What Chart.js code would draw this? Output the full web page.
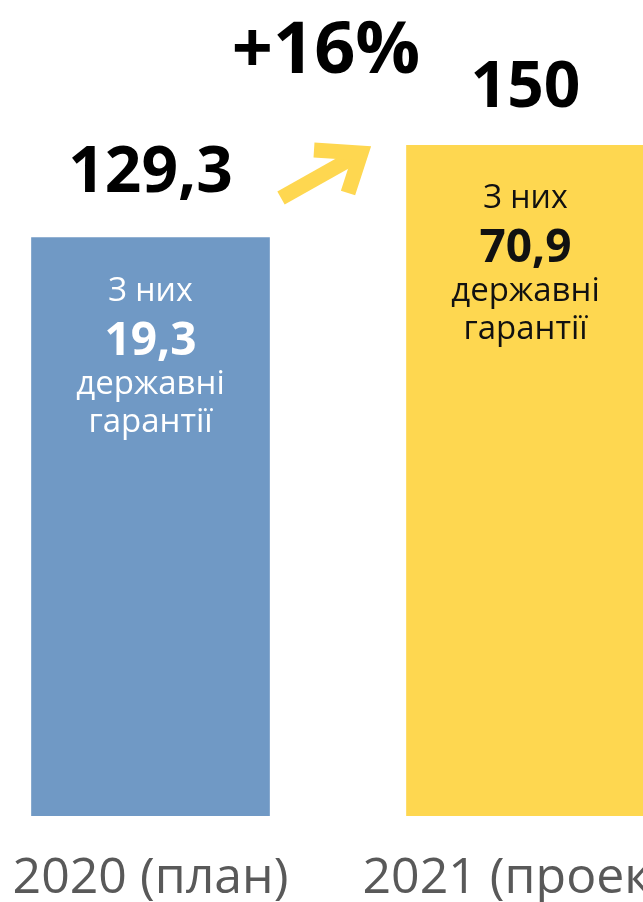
<!DOCTYPE html>
<html>
<head>
<meta charset="utf-8">
<script src="https://cdn.jsdelivr.net/npm/chart.js@4"></script>
<style>
  html, body { margin: 0; padding: 0; background: #ffffff; overflow: hidden; }
  #wrap { position: relative; width: 643px; height: 902px; overflow: hidden; }
  #chart { position: absolute; left: -37px; top: 0; }
</style>
</head>
<body>
<div id="wrap"><canvas id="chart" width="750" height="902"></canvas></div>
<script>
// chart data
const categories = ["2020 (план)", "2021 (проект)"];
const totals = [129.3, 150];
const guarantees = [19.3, 70.9];
const barColors = ["#7099c5", "#fed750"];
const innerTextColors = ["#ffffff", "#111111"];
const innerCaption = ["З них", "державні", "гарантії"];

const CANVAS_SHIFT = 37; // canvas sits 37px left of the page edge
const FONT = "'Open Sans', 'DejaVu Sans', sans-serif";

const fmt = v => String(v).replace(".", ",");
const growthPct = Math.round((totals[1] / totals[0] - 1) * 100);

const labelsPlugin = {
    id: "barLabels",
    afterDatasetsDraw(chart) {
        const ctx = chart.ctx;
        const meta = chart.getDatasetMeta(0);
        const lift = [46, 38];

        ctx.save();
        ctx.textAlign = "center";
        ctx.textBaseline = "alphabetic";

        meta.data.forEach((bar, i) => {
            const x = bar.x;
            const top = bar.y;

            // total above bar
            ctx.fillStyle = "#000000";
            ctx.font = `700 64px ${FONT}`;
            ctx.fillText(fmt(totals[i]), x, top - lift[i]);

            // text inside bar
            ctx.fillStyle = innerTextColors[i];
            ctx.font = `400 32px ${FONT}`;
            ctx.fillText(innerCaption[0], x, top + 63);
            ctx.font = `700 46px ${FONT}`;
            ctx.fillText(fmt(guarantees[i]), x, top + 117);
            ctx.font = `400 33px ${FONT}`;
            ctx.fillText(innerCaption[1], x, top + 156);
            ctx.fillText(innerCaption[2], x, top + 194);
        });

        // growth label + arrow
        const s = CANVAS_SHIFT;
        ctx.fillStyle = "#000000";
        ctx.font = `700 72px ${FONT}`;
        ctx.fillText(`+${growthPct}%`, 326 + s, 73);

        ctx.strokeStyle = "#fed750";
        ctx.lineWidth = 15;
        ctx.lineJoin = "miter";
        ctx.lineCap = "butt";
        ctx.beginPath();
        ctx.moveTo(281 + s, 198);
        ctx.lineTo(361 + s, 153);
        ctx.stroke();
        ctx.beginPath();
        ctx.moveTo(314 + s, 150);
        ctx.lineTo(361 + s, 153);
        ctx.lineTo(348 + s, 193);
        ctx.stroke();

        ctx.restore();
    }
};

new Chart(document.getElementById("chart"), {
    type: "bar",
    data: {
        labels: categories,
        datasets: [{
            data: totals,
            backgroundColor: barColors,
            borderWidth: 0,
            barThickness: 238
        }]
    },
    options: {
        responsive: false,
        devicePixelRatio: 1,
        animation: false,
        layout: { padding: { top: 145, left: 0, right: 0, bottom: 0 } },
        plugins: {
            legend: { display: false },
            tooltip: { enabled: false }
        },
        scales: {
            x: {
                grid: { display: false, drawTicks: false },
                border: { display: false },
                ticks: {
                    color: "#595959",
                    padding: 38,
                    maxRotation: 0,
                    font: { family: FONT, size: 50, weight: "400", lineHeight: 1 }
                },
                afterFit(scale) {
                    // keep the plot full width, labels may spill past the edge
                    scale.paddingLeft = 0;
                    scale.paddingRight = 0;
                    scale.height = 86;
                }
            },
            y: {
                display: false,
                min: 0,
                max: 150
            }
        }
    },
    plugins: [labelsPlugin]
});
</script>
</body>
</html>
